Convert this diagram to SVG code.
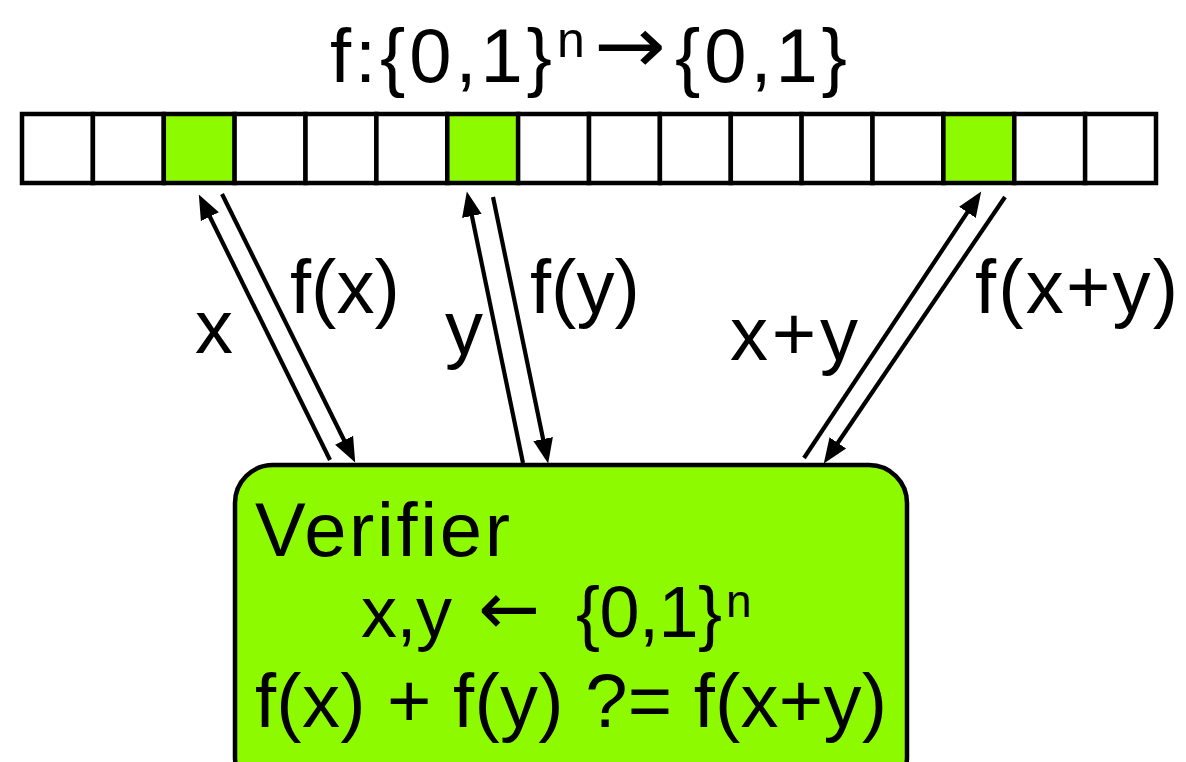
<svg xmlns="http://www.w3.org/2000/svg" width="1186" height="762" viewBox="0 0 1186 762">
<style>
.t{font-family:"Liberation Sans",Arial,sans-serif;fill:#000}
.ar{font-family:"DejaVu Sans",sans-serif;fill:#000}
.cell{fill:#fff;stroke:#000;stroke-width:4.5}
.on{fill:#8efa00}
.conn line{stroke:#000;stroke-width:4.2;fill:none}
</style>
<defs>
<marker id="ah" markerUnits="userSpaceOnUse" markerWidth="28" markerHeight="24" viewBox="0 -12 28 24" refX="2" refY="0" orient="auto">
<path d="M0,-10 L25,0 L0,10 z" fill="#000"/>
</marker>
</defs>
<rect width="1186" height="762" fill="#fff"/>
<g id="title">
<text class="t" font-size="76" x="330" y="82" textLength="222" lengthAdjust="spacing">f:{0,1}</text>
<text class="t" font-size="50" x="557" y="57">n</text>
<text class="ar" font-size="80" x="594" y="73" textLength="72" lengthAdjust="spacingAndGlyphs">→</text>
<text class="t" font-size="76" x="675" y="82" textLength="172" lengthAdjust="spacing">{0,1}</text>
</g>
<g id="array">
<rect class="cell" x="22" y="114" width="70.9" height="69"/>
<rect class="cell" x="92.9" y="114" width="70.9" height="69"/>
<rect class="cell on" x="163.8" y="114" width="70.9" height="69"/>
<rect class="cell" x="234.6" y="114" width="70.9" height="69"/>
<rect class="cell" x="305.5" y="114" width="70.9" height="69"/>
<rect class="cell" x="376.4" y="114" width="70.9" height="69"/>
<rect class="cell on" x="447.3" y="114" width="70.9" height="69"/>
<rect class="cell" x="518.1" y="114" width="70.9" height="69"/>
<rect class="cell" x="589" y="114" width="70.9" height="69"/>
<rect class="cell" x="659.9" y="114" width="70.9" height="69"/>
<rect class="cell" x="730.8" y="114" width="70.9" height="69"/>
<rect class="cell" x="801.6" y="114" width="70.9" height="69"/>
<rect class="cell" x="872.5" y="114" width="70.9" height="69"/>
<rect class="cell on" x="943.4" y="114" width="70.9" height="69"/>
<rect class="cell" x="1014.3" y="114" width="70.9" height="69"/>
<rect class="cell" x="1085.1" y="114" width="70.9" height="69"/>
</g>
<g id="connectors" class="conn">
<line x1="330" y1="460" x2="209" y2="215" marker-end="url(#ah)"/>
<line x1="222" y1="194" x2="345" y2="442" marker-end="url(#ah)"/>
<line x1="523" y1="463" x2="471.5" y2="214" marker-end="url(#ah)"/>
<line x1="493" y1="197" x2="543.5" y2="441" marker-end="url(#ah)"/>
<line x1="804" y1="458" x2="968.5" y2="210.7" marker-end="url(#ah)"/>
<line x1="1005" y1="197" x2="836.7" y2="444.5" marker-end="url(#ah)"/>
</g>
<g id="labels">
<text class="t" font-size="76" x="195" y="353">x</text>
<text class="t" font-size="76" x="290" y="313">f(x)</text>
<text class="t" font-size="76" x="445" y="354">y</text>
<text class="t" font-size="76" x="530" y="313">f(y)</text>
<text class="t" font-size="76" x="730" y="360" textLength="128" lengthAdjust="spacing">x+y</text>
<text class="t" font-size="76" x="975" y="313" textLength="203" lengthAdjust="spacing">f(x+y)</text>
</g>
<g id="verifier">
<rect x="235" y="465" width="672" height="330" rx="38" fill="#8efa00" stroke="#000" stroke-width="4.5"/>
<text class="t" font-size="76" x="255" y="556" textLength="255" lengthAdjust="spacing">Verifier</text>
<text class="t" font-size="72" x="361" y="637" textLength="91" lengthAdjust="spacing">x,y</text>
<text class="ar" font-size="74" x="478" y="634">←</text>
<text class="t" font-size="72" x="576" y="637" textLength="146" lengthAdjust="spacing">{0,1}</text>
<text class="t" font-size="46" x="726" y="617">n</text>
<text class="t" font-size="76" x="255" y="727" textLength="632" lengthAdjust="spacing">f(x) + f(y) ?= f(x+y)</text>
</g>
</svg>
